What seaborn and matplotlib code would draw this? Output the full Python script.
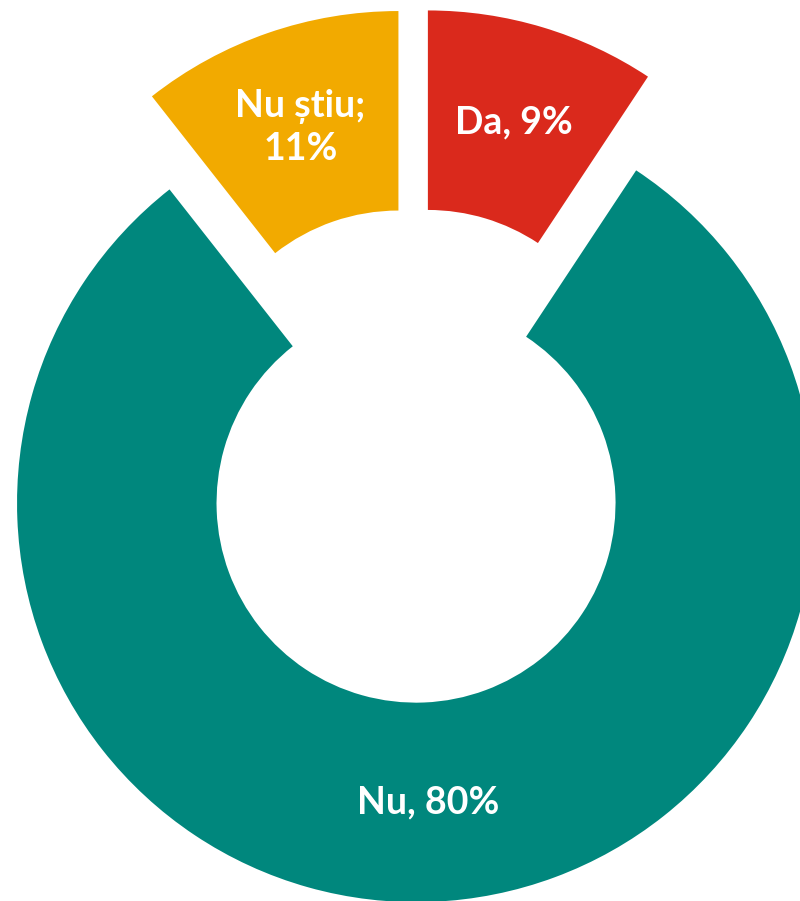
import seaborn as sns
import matplotlib.pyplot as plt

# date
categorii = ['Da', 'Nu', 'Nu știu']
valori = [9.3, 80.1, 10.6]
separatori = [', ', ', ', ';\n']
culori = ['#DA291C', '#00877D', '#F2AA00']

etichete = [f'{c}{s}{round(v)}%' for c, s, v in zip(categorii, separatori, valori)]

sns.set_theme(style="white")
plt.rcParams['font.family'] = ['Lato', 'DejaVu Sans']

fig = plt.figure(figsize=(8, 9.01), dpi=100)
ax = fig.add_axes([0, 0, 1, 1])

wedges, texts = ax.pie(
    valori,
    labels=etichete,
    colors=culori,
    startangle=90,
    counterclock=False,
    explode=[0.12] * len(valori),
    radius=1,
    labeldistance=0.75,
    wedgeprops=dict(width=0.5, linewidth=0),
    textprops=dict(color='white', fontsize=27, fontweight='bold'),
)
for t in texts:
    t.set_horizontalalignment('center')
    t.set_verticalalignment('center')
    t.set_multialignment('center')
    t.set_linespacing(1.3)

ax.set_aspect('auto')
ax.set_xlim(-1.0378, 0.9672)
ax.set_ylim(-1.1170, 1.1411)
ax.axis('off')

plt.savefig('out.png', dpi=100, facecolor='white')
plt.close()
